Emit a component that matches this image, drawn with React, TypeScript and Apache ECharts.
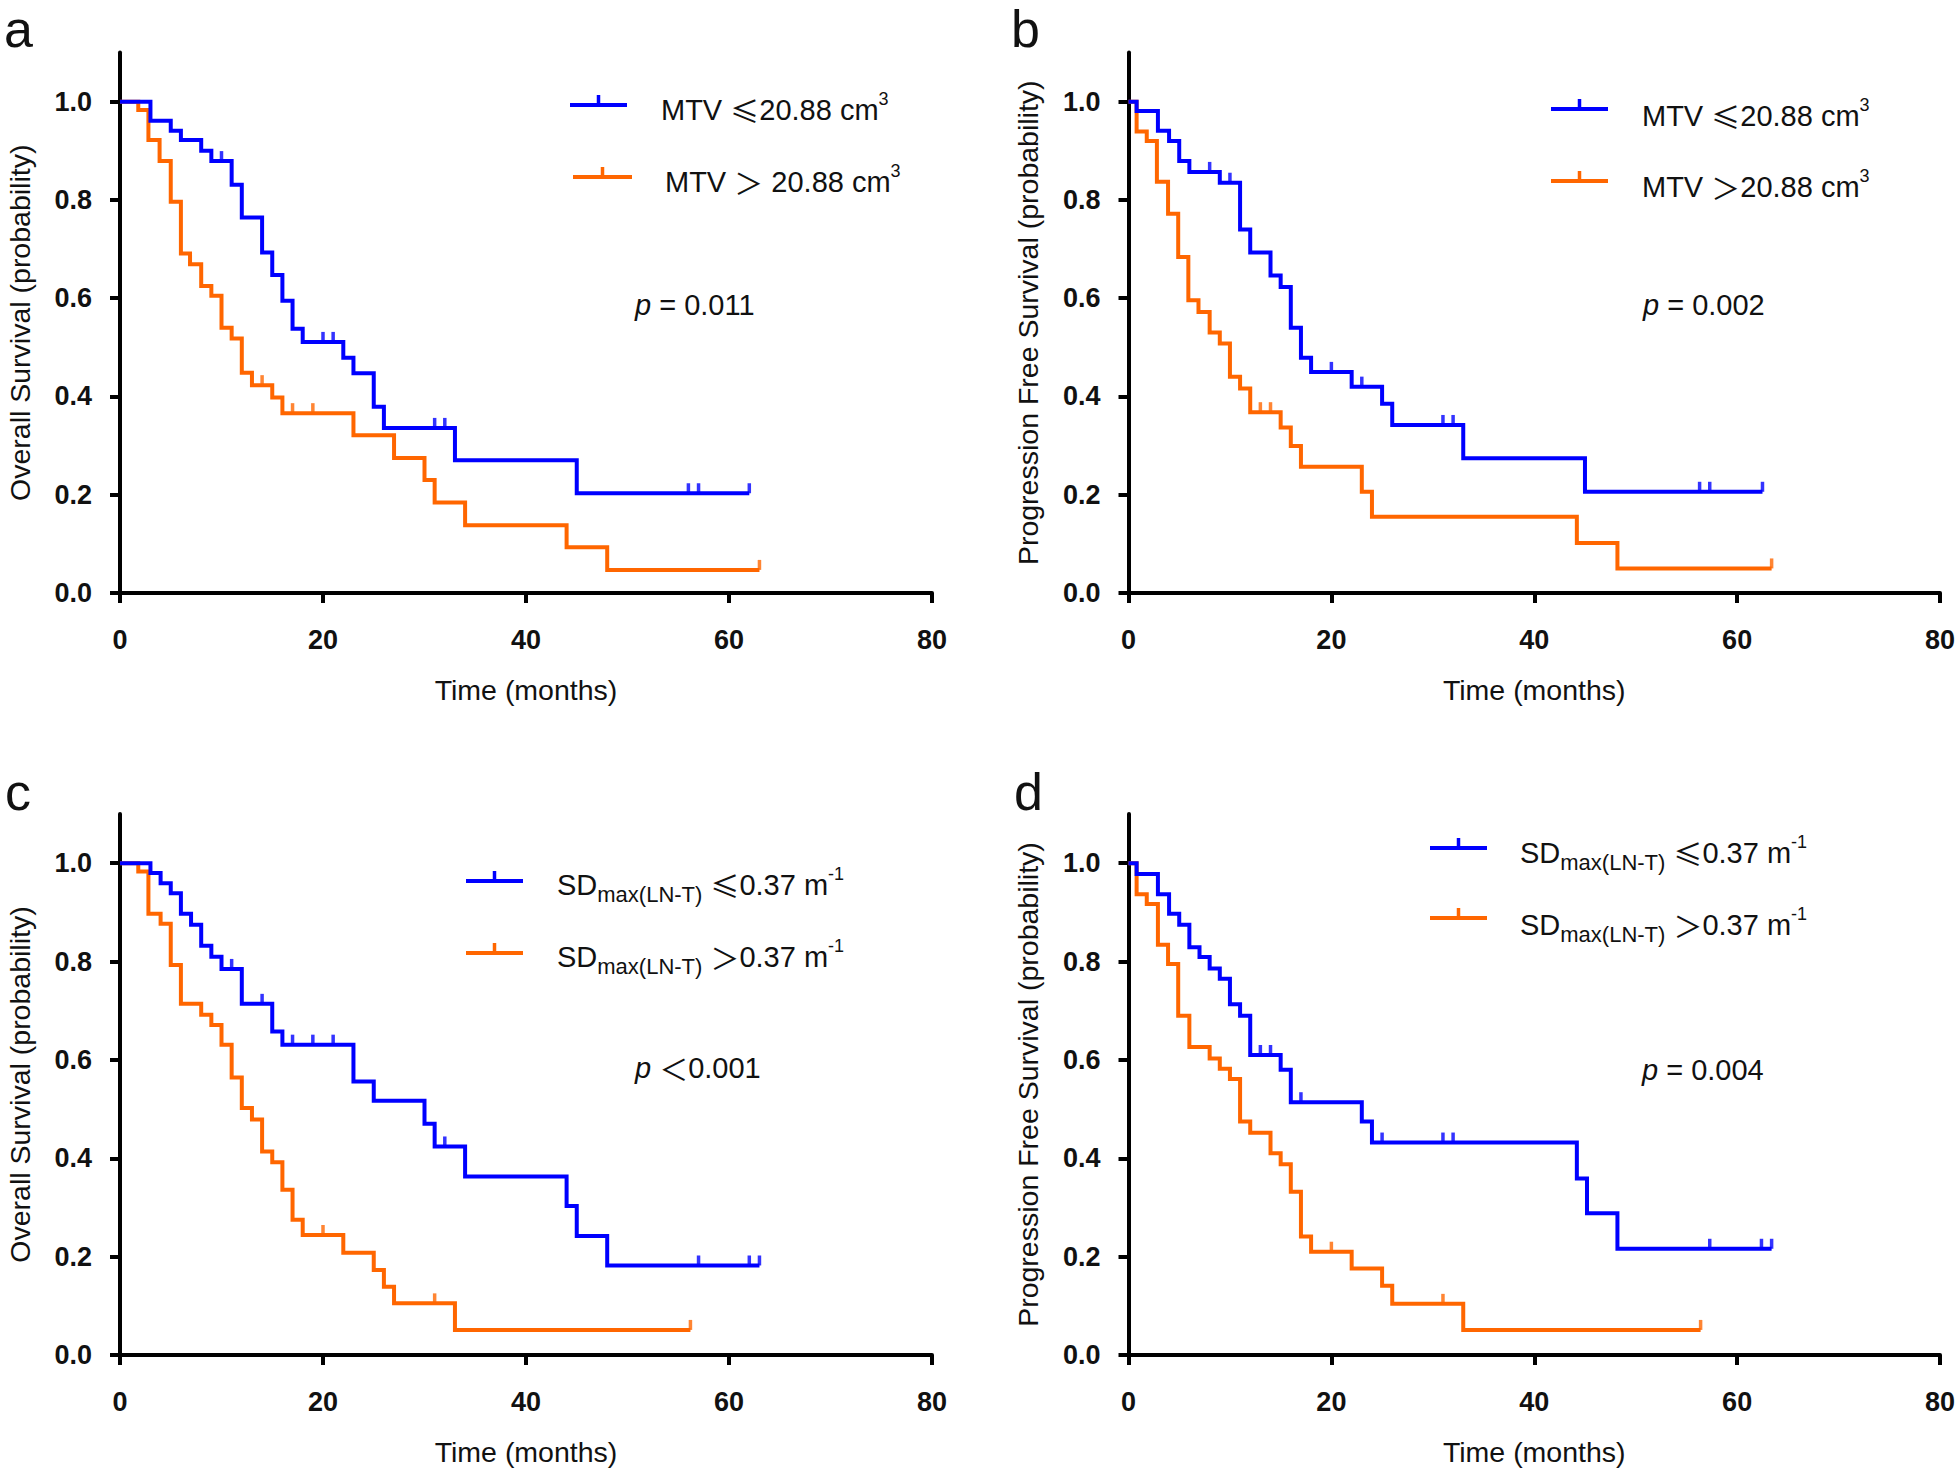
import React, { useEffect, useRef } from 'react';
import * as echarts from 'echarts';

// ---------- Data ----------
// Panel a: Overall survival by MTV
const aLowTimes = [0, 3, 5, 6, 8, 9, 11, 12, 14, 15, 16, 17, 18, 22, 23, 25, 26, 33, 45, 62];
const aLowSurv = [1.0, 0.961, 0.941, 0.922, 0.9, 0.879, 0.831, 0.764, 0.693, 0.647, 0.595, 0.538, 0.511, 0.479, 0.447, 0.379, 0.336, 0.27, 0.203, 0.203];
const aLowCensor = [10, 20, 21, 31, 32, 56, 57, 62];
const aHighTimes = [0, 1.8, 2.8, 3.9, 5, 6, 6.9, 8, 9, 10, 11, 12, 13, 15, 16, 23, 27, 30, 31, 34, 44, 48, 63];
const aHighSurv = [1.0, 0.983, 0.922, 0.879, 0.796, 0.691, 0.669, 0.625, 0.605, 0.54, 0.518, 0.448, 0.423, 0.398, 0.366, 0.321, 0.275, 0.23, 0.184, 0.138, 0.093, 0.047, 0.047];
const aHighCensor = [14, 17, 19, 63];

// Panel b: Progression free survival by MTV
const bLowTimes = [0, 0.8, 2.9, 4, 5, 6, 9, 11, 12, 14, 15, 16, 17, 18, 22, 25, 26, 33, 45, 62.5];
const bLowSurv = [1.0, 0.981, 0.941, 0.92, 0.879, 0.857, 0.835, 0.74, 0.693, 0.646, 0.623, 0.54, 0.479, 0.45, 0.42, 0.385, 0.342, 0.274, 0.206, 0.206];
const bLowCensor = [8, 10, 20, 23, 31, 32, 56.3, 57.3, 62.5];
const bHighTimes = [0, 0.8, 1.8, 2.8, 3.9, 4.9, 5.9, 6.9, 8, 9, 10, 11, 12, 15, 16, 17, 23, 24, 44.2, 48.2, 63.4];
const bHighSurv = [1.0, 0.939, 0.92, 0.837, 0.772, 0.684, 0.596, 0.572, 0.53, 0.508, 0.44, 0.416, 0.368, 0.337, 0.299, 0.257, 0.206, 0.155, 0.102, 0.05, 0.05];
const bHighCensor = [13, 14, 63.4];

// Panel c: Overall survival by SDmax(LN-T)
const cLowTimes = [0, 3, 4, 5, 6, 7, 8, 9, 10, 12, 15, 16, 23, 25, 30, 31, 34, 44, 45, 48, 63];
const cLowSurv = [1.0, 0.98, 0.959, 0.939, 0.897, 0.875, 0.832, 0.81, 0.785, 0.714, 0.658, 0.631, 0.556, 0.517, 0.47, 0.424, 0.363, 0.303, 0.242, 0.182, 0.182];
const cLowCensor = [11, 14, 17, 19, 21, 32, 57, 62, 63];
const cHighTimes = [0, 1.8, 2.8, 4, 5, 6, 8, 9, 10, 11, 12, 13, 14, 15, 16, 17, 18, 22, 25, 26, 27, 33, 56.2];
const cHighSurv = [1.0, 0.983, 0.897, 0.877, 0.793, 0.714, 0.692, 0.671, 0.631, 0.564, 0.502, 0.479, 0.414, 0.392, 0.336, 0.275, 0.244, 0.208, 0.173, 0.139, 0.105, 0.051, 0.051];
const cHighCensor = [20, 31, 56.2];

// Panel d: Progression free survival by SDmax(LN-T)
const dLowTimes = [0, 0.8, 2.9, 4, 5, 6, 7, 8, 9, 10, 11, 12, 15, 16, 23, 24, 44.2, 45.2, 48.2, 63.4];
const dLowSurv = [1.0, 0.978, 0.937, 0.897, 0.875, 0.829, 0.809, 0.786, 0.765, 0.713, 0.69, 0.61, 0.58, 0.514, 0.475, 0.432, 0.359, 0.288, 0.216, 0.216];
const dLowCensor = [13, 14, 17, 25, 31, 32, 57.3, 62.4, 63.4];
const dHighTimes = [0, 0.8, 1.8, 2.9, 3.9, 4.9, 6, 8, 9, 10, 11, 12, 14, 15, 16, 17, 18, 22, 25, 26, 33, 56.4];
const dHighSurv = [1.0, 0.937, 0.917, 0.834, 0.795, 0.69, 0.626, 0.603, 0.582, 0.561, 0.475, 0.452, 0.41, 0.388, 0.332, 0.241, 0.21, 0.176, 0.141, 0.104, 0.051, 0.051];
const dHighCensor = [20, 31, 56.4];

const xTicks = [0, 20, 40, 60, 80];
const yTicks = [0, 0.2, 0.4, 0.6, 0.8, 1.0];
const panelLetters = ['a', 'b', 'c', 'd'];
const yTitles = [
  'Overall Survival (probability)',
  'Progression Free Survival (probability)',
  'Overall Survival (probability)',
  'Progression Free Survival (probability)',
];
const xTitle = 'Time (months)';
const pValues = ['{i|p}{m| = 0.011}', '{i|p}{m| = 0.002}', '{i|p}{m| }{s|＜}{m|0.001}', '{i|p}{m| = 0.004}'];

const BLUE = '#0000FF';
const ORANGE = '#FF6600';
const FONT = '"Liberation Sans", Arial, sans-serif';
const CJK = '"Noto Sans CJK SC", sans-serif';

const panels = [
  { lowT: aLowTimes, lowS: aLowSurv, lowC: aLowCensor, highT: aHighTimes, highS: aHighSurv, highC: aHighCensor },
  { lowT: bLowTimes, lowS: bLowSurv, lowC: bLowCensor, highT: bHighTimes, highS: bHighSurv, highC: bHighCensor },
  { lowT: cLowTimes, lowS: cLowSurv, lowC: cLowCensor, highT: cHighTimes, highS: cHighSurv, highC: cHighCensor },
  { lowT: dLowTimes, lowS: dLowSurv, lowC: dLowCensor, highT: dHighTimes, highS: dHighSurv, highC: dHighCensor },
];

// layout (pixels)
const grids = [
  { left: 120, top: 52.5, width: 812, height: 540.5 },
  { left: 1128.5, top: 52.5, width: 811.5, height: 540.5 },
  { left: 120, top: 814, width: 812, height: 541 },
  { left: 1128.5, top: 814, width: 811.5, height: 541 },
];

function stepPts(t: number[], s: number[]) {
  return t.map((x, i) => [x, s[i]]);
}
function censorPts(t: number[], s: number[], c: number[]) {
  return c.map((ct) => {
    let idx = 0;
    for (let i = 0; i < t.length; i++) if (t[i] <= ct) idx = i;
    return [ct, s[idx]];
  });
}

const richBase: any = {
  m: { fontSize: 29, fontFamily: FONT, color: '#111', lineHeight: 40, verticalAlign: 'middle' },
  s: { fontSize: 29, fontFamily: CJK, color: '#333', lineHeight: 40, verticalAlign: 'middle' },
  sub: { fontSize: 22, fontFamily: FONT, color: '#111', lineHeight: 22, verticalAlign: 'bottom' },
  sup: { fontSize: 18, fontFamily: FONT, color: '#111', lineHeight: 20, verticalAlign: 'top' },
  i: { fontSize: 29, fontFamily: FONT, fontStyle: 'italic', color: '#111', lineHeight: 40, verticalAlign: 'middle' },
};

function legendMark(x1: number, x2: number, y: number, color: string) {
  return [
    { type: 'rect', shape: { x: x1, y: y - 2, width: x2 - x1, height: 4 }, style: { fill: color } },
    { type: 'rect', shape: { x: (x1 + x2) / 2 - 1.75, y: y - 10, width: 3.5, height: 10 }, style: { fill: color } },
  ];
}
function richText(x: number, y: number, text: string) {
  return {
    type: 'text',
    x,
    y,
    style: {
      text,
      rich: richBase,
      align: 'left',
      verticalAlign: 'middle',
      textAlign: 'left',
      textVerticalAlign: 'middle',
      fill: '#111',
    },
  };
}

const legendDefs = [
  { lines: [[570, 627, 105], [573, 632, 177]], texts: [[661, 110, '{m|MTV }{s|≤}{m|20.88 cm}{sup|3}'], [665, 182, '{m|MTV }{s|＞}{m| 20.88 cm}{sup|3}']], p: [635, 305] },
  { lines: [[1551, 1608, 109], [1551, 1608, 181]], texts: [[1642, 116, '{m|MTV }{s|≤}{m|20.88 cm}{sup|3}'], [1642, 187, '{m|MTV }{s|＞}{m|20.88 cm}{sup|3}']], p: [1643, 305] },
  { lines: [[466, 523, 881], [466, 523, 953]], texts: [[557, 885, '{m|SD}{sub|max(LN-T)}{m| }{s|≤}{m|0.37 m}{sup|-1}'], [557, 957, '{m|SD}{sub|max(LN-T)}{m| }{s|＞}{m|0.37 m}{sup|-1}']], p: [635, 1068] },
  { lines: [[1430, 1487, 848], [1430, 1487, 918]], texts: [[1520, 853, '{m|SD}{sub|max(LN-T)}{m| }{s|≤}{m|0.37 m}{sup|-1}'], [1520, 925, '{m|SD}{sub|max(LN-T)}{m| }{s|＞}{m|0.37 m}{sup|-1}']], p: [1642, 1070] },
];
const letterPos = [[4, 29], [1011, 29], [5, 792], [1014, 792]];

export default function App() {
  const ref = useRef<HTMLDivElement>(null);
  useEffect(() => {
    if (!ref.current) return;
    const chart = echarts.init(ref.current, null, { renderer: 'svg' });
    const axisLineStyle = { color: '#000', width: 4 };
    const xAxis = grids.map((_, i) => ({
      type: 'value',
      gridIndex: i,
      min: 0,
      max: 80,
      interval: 20,
      axisLine: { show: true, onZero: false, lineStyle: axisLineStyle },
      axisTick: { show: true, length: 10, lineStyle: axisLineStyle, customValues: xTicks },
      axisLabel: { fontSize: 27, fontWeight: 'bold', color: '#111', fontFamily: FONT, margin: 33, customValues: xTicks },
      splitLine: { show: false },
      name: xTitle,
      nameLocation: 'middle',
      nameGap: 82,
      nameTextStyle: { fontSize: 28.5, fontFamily: FONT, color: '#111' },
    }));
    const yAxis = grids.map((_, i) => ({
      type: 'value',
      gridIndex: i,
      min: 0,
      max: 1.1,
      axisLine: { show: true, onZero: false, lineStyle: axisLineStyle },
      axisTick: { show: true, length: 10, lineStyle: axisLineStyle, customValues: yTicks },
      axisLabel: {
        fontSize: 27,
        fontWeight: 'bold',
        color: '#111',
        fontFamily: FONT,
        margin: 28,
        customValues: yTicks,
        formatter: (v: number) => v.toFixed(1),
      },
      splitLine: { show: false },
      name: yTitles[i],
      nameLocation: 'middle',
      nameGap: 86,
      nameTextStyle: { fontSize: 28.5, fontFamily: FONT, color: '#111' },
    }));
    const series: any[] = [];
    panels.forEach((p, i) => {
      const lineCommon = { type: 'line', step: 'end', showSymbol: false, xAxisIndex: i, yAxisIndex: i, silent: true };
      series.push({ ...lineCommon, name: `high${i}`, data: stepPts(p.highT, p.highS), lineStyle: { color: ORANGE, width: 4, join: 'miter', cap: 'butt' }, z: 2 });
      series.push({ ...lineCommon, name: `low${i}`, data: stepPts(p.lowT, p.lowS), lineStyle: { color: BLUE, width: 4, join: 'miter', cap: 'butt' }, z: 3 });
      series.push({ type: 'scatter', xAxisIndex: i, yAxisIndex: i, silent: true, symbol: 'rect', symbolSize: [3.5, 10], symbolOffset: [0, -5], itemStyle: { color: ORANGE }, data: censorPts(p.highT, p.highS, p.highC), z: 4 });
      series.push({ type: 'scatter', xAxisIndex: i, yAxisIndex: i, silent: true, symbol: 'rect', symbolSize: [3.5, 10], symbolOffset: [0, -5], itemStyle: { color: BLUE }, data: censorPts(p.lowT, p.lowS, p.lowC), z: 5 });
    });
    const graphic: any[] = [];
    panelLetters.forEach((l, i) => {
      graphic.push({
        type: 'text',
        x: letterPos[i][0],
        y: letterPos[i][1],
        style: { text: l, fontSize: 52, lineHeight: 52, fontFamily: FONT, fill: '#111', align: 'left', verticalAlign: 'middle', textAlign: 'left', textVerticalAlign: 'middle' },
      });
    });
    legendDefs.forEach((d, i) => {
      const colors = [BLUE, ORANGE];
      d.lines.forEach((ln, k) => graphic.push(...legendMark(ln[0] as number, ln[1] as number, ln[2] as number, colors[k])));
      d.texts.forEach((t) => graphic.push(richText(t[0] as number, t[1] as number, t[2] as string)));
      graphic.push(richText(d.p[0], d.p[1], pValues[i]));
    });
    chart.setOption({
      animation: false,
      backgroundColor: '#fff',
      grid: grids.map((g) => ({ ...g, containLabel: false })),
      xAxis,
      yAxis,
      series,
      graphic,
    });
    return () => chart.dispose();
  }, []);
  return <div ref={ref} style={{ position: 'fixed', left: 0, top: 0, width: 1959, height: 1474, background: '#fff' }} />;
}
